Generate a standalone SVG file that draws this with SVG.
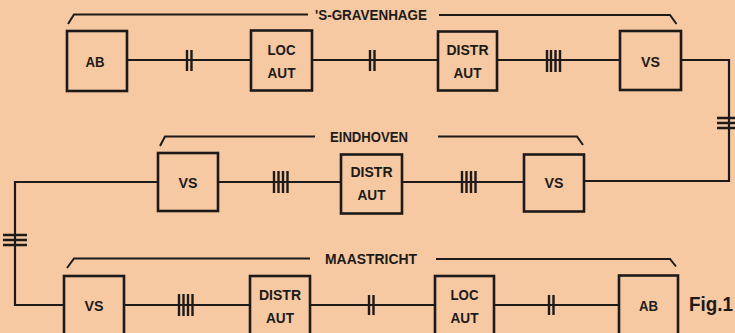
<svg xmlns="http://www.w3.org/2000/svg" width="735" height="333" viewBox="0 0 735 333">
<style>
.bg{fill:#f6c9a2}
.box{fill:none;stroke:#1d1a19;stroke-width:2.6}
.ln{fill:none;stroke:#1d1a19;stroke-width:2.2}
.tk{fill:none;stroke:#1d1a19;stroke-width:2.4}
.br{fill:none;stroke:#1d1a19;stroke-width:2}
text{font-family:"Liberation Sans",Arial,sans-serif;font-weight:bold;fill:#1d1a19;text-anchor:middle}
.lb{font-size:15px}
.tt{font-size:14px}
.fig{font-size:20px;text-anchor:start}
</style>
<rect class="bg" x="0" y="0" width="735" height="333"/>

<g id="connectors">
  <path class="ln" d="M127,60 H251"/>
  <path class="ln" d="M312,60 H438"/>
  <path class="ln" d="M497,60 H620"/>
  <path class="ln" d="M681,60 H729 V181 H584"/>
  <path class="ln" d="M218,182 H341"/>
  <path class="ln" d="M402,182 H524"/>
  <path class="ln" d="M158,182 H15 V305 H64"/>
  <path class="ln" d="M124,305 H250"/>
  <path class="ln" d="M310,305 H435"/>
  <path class="ln" d="M494,305 H619"/>
  <path class="tk" d="M187,50 V71 M191.5,50 V71"/>
  <path class="tk" d="M370,50 V71 M374.5,50 V71"/>
  <path class="tk" d="M547,50 V72 M551,50 V72 M555.5,50 V72 M560,50 V72"/>
  <path class="tk" d="M717,118 H735 M717,123 H735 M717,128 H735"/>
  <path class="tk" d="M274,171 V193 M278.5,171 V193 M283,171 V193 M287.5,171 V193"/>
  <path class="tk" d="M462,171 V193 M466.5,171 V193 M471,171 V193 M475.5,171 V193"/>
  <path class="tk" d="M3,235 H27 M3,240 H27 M3,245 H27"/>
  <path class="tk" d="M179,294 V316 M183.5,294 V316 M188,294 V316 M192.5,294 V316"/>
  <path class="tk" d="M369,295 V315 M373.5,295 V315"/>
  <path class="tk" d="M549,295 V315 M553.5,295 V315"/>
</g>

<g id="label-gravenhage">
  <path class="br" d="M68,24 L74,14.5 H308"/>
  <path class="br" d="M439,15 H670 L676.5,24"/>
  <text class="tt" x="371" y="20" textLength="112" lengthAdjust="spacingAndGlyphs">'S-GRAVENHAGE</text>
</g>
<g id="label-eindhoven">
  <path class="br" d="M160,146 L165,136.5 H315"/>
  <path class="br" d="M438,136.5 H577 L583,145"/>
  <text class="tt" x="369" y="142" textLength="78" lengthAdjust="spacingAndGlyphs">EINDHOVEN</text>
</g>
<g id="label-maastricht">
  <path class="br" d="M67,268 L74,258.5 H310"/>
  <path class="br" d="M436,259 H670 L676,266.5"/>
  <text class="tt" x="371" y="264" textLength="92" lengthAdjust="spacingAndGlyphs">MAASTRICHT</text>
</g>

<g id="ab1"><rect class="box" x="67" y="31" width="60" height="60"/><text class="lb" x="95" y="66.5" textLength="19" lengthAdjust="spacingAndGlyphs">AB</text></g>
<g id="loc1"><rect class="box" x="251" y="30.5" width="61" height="60"/><text class="lb" x="281.5" y="55" textLength="28" lengthAdjust="spacingAndGlyphs">LOC</text><text class="lb" x="281.5" y="77.5" textLength="28" lengthAdjust="spacingAndGlyphs">AUT</text></g>
<g id="distr1"><rect class="box" x="438" y="31.5" width="59" height="59"/><text class="lb" x="467.5" y="55" textLength="42" lengthAdjust="spacingAndGlyphs">DISTR</text><text class="lb" x="467.5" y="78" textLength="28" lengthAdjust="spacingAndGlyphs">AUT</text></g>
<g id="vs1"><rect class="box" x="620" y="31" width="61" height="59"/><text class="lb" x="650.5" y="66.5" textLength="19" lengthAdjust="spacingAndGlyphs">VS</text></g>

<g id="vs2"><rect class="box" x="158" y="153" width="60" height="58"/><text class="lb" x="188" y="188" textLength="19" lengthAdjust="spacingAndGlyphs">VS</text></g>
<g id="distr2"><rect class="box" x="341" y="154.5" width="61" height="59"/><text class="lb" x="371.5" y="177" textLength="42" lengthAdjust="spacingAndGlyphs">DISTR</text><text class="lb" x="371.5" y="200" textLength="28" lengthAdjust="spacingAndGlyphs">AUT</text></g>
<g id="vs3"><rect class="box" x="524" y="154.5" width="60" height="57"/><text class="lb" x="554" y="188" textLength="19" lengthAdjust="spacingAndGlyphs">VS</text></g>

<g id="vs4"><rect class="box" x="64" y="276" width="60" height="60"/><text class="lb" x="94" y="311" textLength="19" lengthAdjust="spacingAndGlyphs">VS</text></g>
<g id="distr3"><rect class="box" x="250" y="276" width="60" height="60"/><text class="lb" x="280" y="300" textLength="42" lengthAdjust="spacingAndGlyphs">DISTR</text><text class="lb" x="280" y="323" textLength="28" lengthAdjust="spacingAndGlyphs">AUT</text></g>
<g id="loc2"><rect class="box" x="435" y="276" width="59" height="60"/><text class="lb" x="464.5" y="300" textLength="28" lengthAdjust="spacingAndGlyphs">LOC</text><text class="lb" x="464.5" y="323" textLength="28" lengthAdjust="spacingAndGlyphs">AUT</text></g>
<g id="ab2"><rect class="box" x="619" y="275.5" width="59" height="60"/><text class="lb" x="648.5" y="311" textLength="19" lengthAdjust="spacingAndGlyphs">AB</text></g>

<text class="fig" x="689" y="311" textLength="44" lengthAdjust="spacingAndGlyphs">Fig.1</text>
</svg>
